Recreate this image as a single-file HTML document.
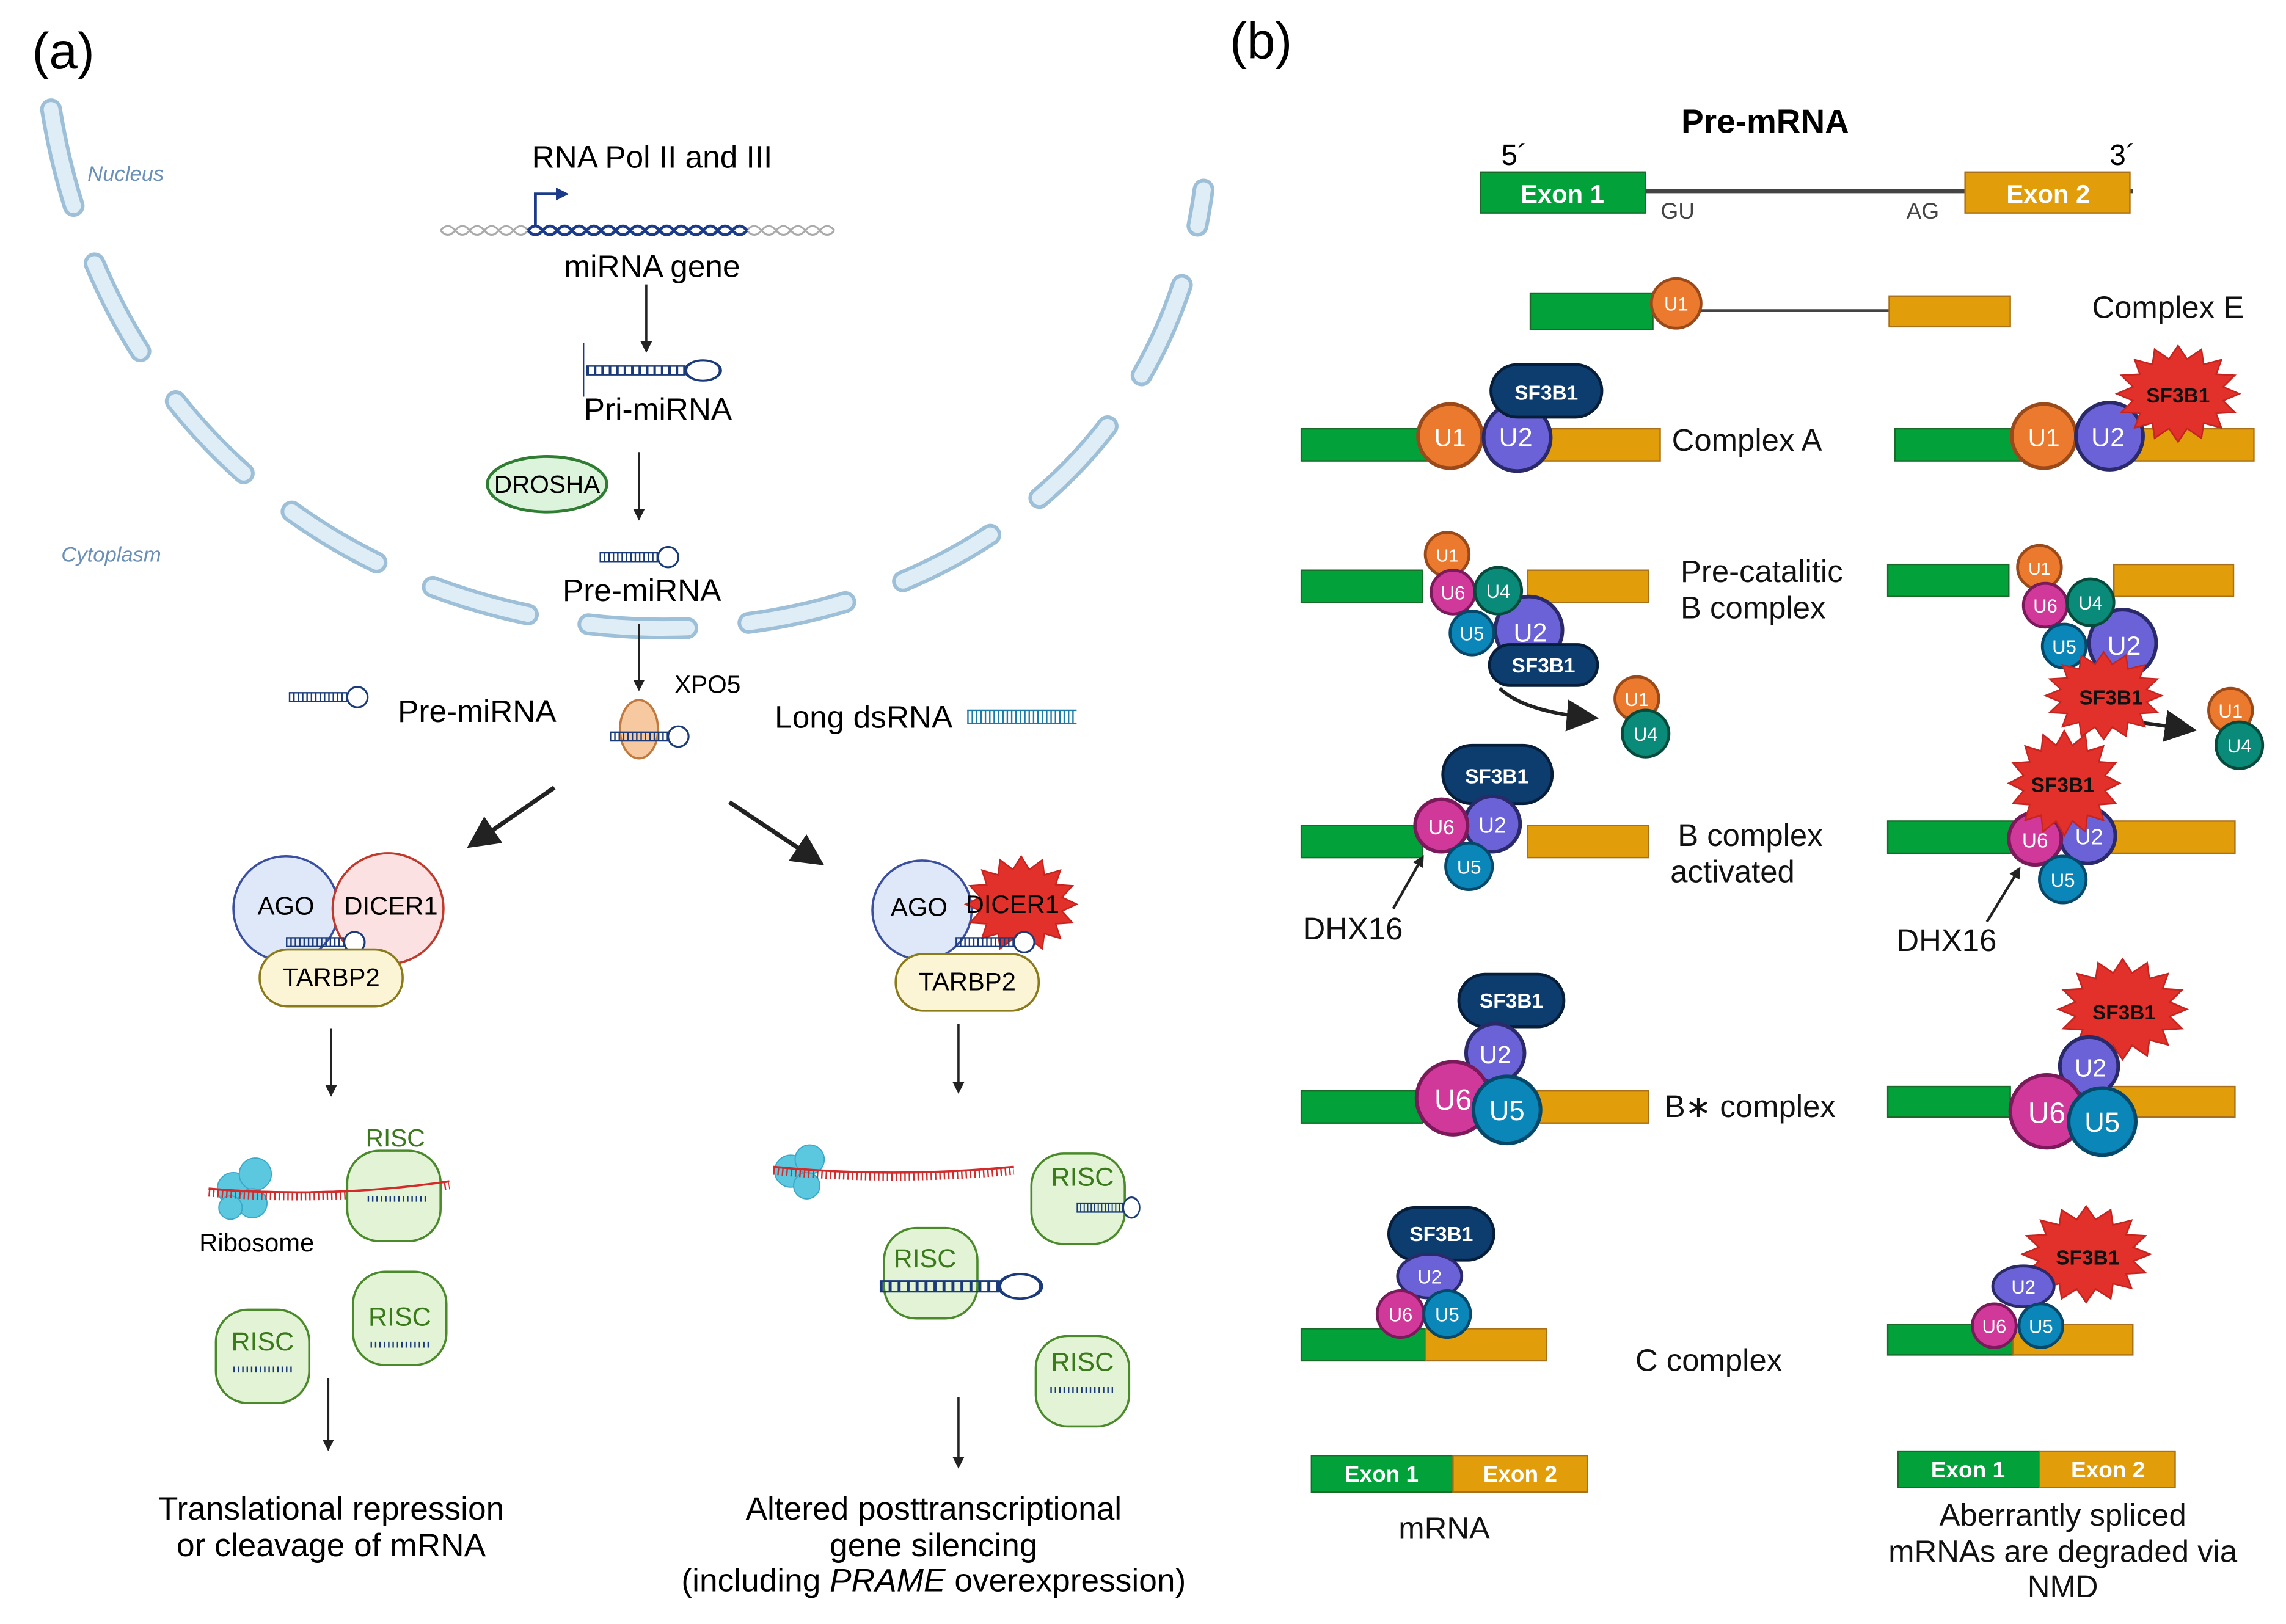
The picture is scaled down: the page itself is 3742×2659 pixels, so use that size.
<!DOCTYPE html>
<html><head><meta charset="utf-8"><style>
html,body{margin:0;padding:0;background:#fff}
svg{display:block}
text{font-family:"Liberation Sans",sans-serif}
</style></head><body>
<svg width="3742" height="2659" viewBox="0 0 1567 1113.5" preserveAspectRatio="none" xmlns="http://www.w3.org/2000/svg">
<defs>
<polygon id="star" points="40,0 29.4,4.3 37,11.5 24.9,12.2 28.3,21.2 16.7,18.3 15.3,27.7 5.9,21.6 0,30 -5.9,21.6 -15.3,27.7 -16.7,18.3 -28.3,21.2 -24.9,12.2 -37,11.5 -29.4,4.3 -40,0 -29.4,-4.3 -37,-11.5 -24.9,-12.2 -28.3,-21.2 -16.7,-18.3 -15.3,-27.7 -5.9,-21.6 0,-30 5.9,-21.6 15.3,-27.7 16.7,-18.3 28.3,-21.2 24.9,-12.2 37,-11.5 29.4,-4.3" fill="#e2302a" stroke="#c42520" stroke-width="1"/>
<marker id="ah" markerWidth="8" markerHeight="8" refX="6" refY="4" orient="auto" markerUnits="userSpaceOnUse"><path d="M0,0 L8,4 L0,8 z" fill="#222"/></marker>
<marker id="ahb" markerWidth="22" markerHeight="22" refX="16" refY="11" orient="auto" markerUnits="userSpaceOnUse"><path d="M0,0 L22,11 L0,22 z" fill="#222"/></marker>
<marker id="ahn" markerWidth="9" markerHeight="9" refX="7" refY="4.5" orient="auto" markerUnits="userSpaceOnUse"><path d="M0,0 L9,4.5 L0,9 z" fill="#1a3a8a"/></marker>
<g id="hp">
<line x1="0" y1="-3" x2="40" y2="-3" stroke="#1a3a7a" stroke-width="1"/>
<line x1="0" y1="3" x2="40" y2="3" stroke="#1a3a7a" stroke-width="1"/>
<line x1="0" y1="0" x2="40" y2="0" stroke="#1a3a7a" stroke-width="6" stroke-dasharray="1 2"/>
<ellipse cx="47" cy="0" rx="7" ry="7" fill="#fff" stroke="#1a3a7a" stroke-width="1.3"/>
</g>
</defs>

<!-- ===== (a) ===== -->
<text x="22" y="47" font-size="35">(a)</text>
<path d="M35,75 C 110,540 770,540 825,130" fill="none" stroke="#9dc0d8" stroke-width="15" stroke-dasharray="68 42" stroke-linecap="round"/>
<path d="M35,75 C 110,540 770,540 825,130" fill="none" stroke="#deedf6" stroke-width="10" stroke-dasharray="68 42" stroke-linecap="round"/>
<text x="60" y="124" font-size="14.5" font-style="italic" fill="#6a8fb8">Nucleus</text>
<text x="42" y="385" font-size="14.5" font-style="italic" fill="#6a8fb8">Cytoplasm</text>

<text x="447" y="115" font-size="21.5" text-anchor="middle">RNA Pol II and III</text>
<path d="M302,158 q5,-6 10,0 t10,0 t10,0 t10,0 t10,0 t10,0 t10,0 t10,0 t10,0 t10,0 t10,0 t10,0 t10,0 t10,0 t10,0 t10,0 t10,0 t10,0 t10,0 t10,0 t10,0 t10,0 t10,0 t10,0 t10,0 t10,0 t10,0" fill="none" stroke="#aaa" stroke-width="1.3"/>
<path d="M302,158 q5,6 10,0 t10,0 t10,0 t10,0 t10,0 t10,0 t10,0 t10,0 t10,0 t10,0 t10,0 t10,0 t10,0 t10,0 t10,0 t10,0 t10,0 t10,0 t10,0 t10,0 t10,0 t10,0 t10,0 t10,0 t10,0 t10,0 t10,0" fill="none" stroke="#aaa" stroke-width="1.3"/>
<path d="M362,158 q5,-6 10,0 t10,0 t10,0 t10,0 t10,0 t10,0 t10,0 t10,0 t10,0 t10,0 t10,0 t10,0 t10,0 t10,0 t10,0" fill="none" stroke="#1a3a8a" stroke-width="2"/>
<path d="M362,158 q5,6 10,0 t10,0 t10,0 t10,0 t10,0 t10,0 t10,0 t10,0 t10,0 t10,0 t10,0 t10,0 t10,0 t10,0 t10,0" fill="none" stroke="#1a3a8a" stroke-width="2"/>
<path d="M367,156 V133 H388" fill="none" stroke="#1a3a8a" stroke-width="2" marker-end="url(#ahn)"/>
<text x="447" y="190" font-size="21.5" text-anchor="middle">miRNA gene</text>
<line x1="443" y1="195" x2="443" y2="240" stroke="#222" stroke-width="1.5" marker-end="url(#ah)"/>
<line x1="400" y1="235" x2="400" y2="272" stroke="#1a3a7a" stroke-width="1"/>
<use href="#hp" transform="translate(402,254) scale(1.7,1)"/>
<text x="451" y="288" font-size="21.5" text-anchor="middle">Pri-miRNA</text>
<ellipse cx="375" cy="332" rx="41" ry="19" fill="#dcf3dc" stroke="#2e7d32" stroke-width="2"/>
<text x="375" y="338" font-size="17" text-anchor="middle">DROSHA</text>
<line x1="438" y1="310" x2="438" y2="355" stroke="#222" stroke-width="1.5" marker-end="url(#ah)"/>
<use href="#hp" transform="translate(411,382)"/>
<text x="440" y="412" font-size="21.5" text-anchor="middle">Pre-miRNA</text>
<line x1="438" y1="428" x2="438" y2="472" stroke="#222" stroke-width="1.5" marker-end="url(#ah)"/>
<text x="485" y="475" font-size="17" text-anchor="middle">XPO5</text>
<ellipse cx="438" cy="500" rx="13" ry="20" fill="#f6c9a0" stroke="#c07a40" stroke-width="1.5"/>
<use href="#hp" transform="translate(418,505)"/>
<use href="#hp" transform="translate(198,478)"/>
<text x="327" y="495" font-size="21.5" text-anchor="middle">Pre-miRNA</text>
<text x="592" y="499" font-size="21.5" text-anchor="middle">Long dsRNA</text>
<line x1="663" y1="487" x2="738" y2="487" stroke="#1a7aa8" stroke-width="1"/>
<line x1="663" y1="496" x2="738" y2="496" stroke="#1a7aa8" stroke-width="1"/>
<line x1="663" y1="491.5" x2="738" y2="491.5" stroke="#1a7aa8" stroke-width="9" stroke-dasharray="1 2"/>
<line x1="380" y1="540" x2="325" y2="578" stroke="#222" stroke-width="3" marker-end="url(#ahb)"/>
<line x1="500" y1="550" x2="560" y2="590" stroke="#222" stroke-width="3" marker-end="url(#ahb)"/>

<!-- left complex -->
<circle cx="196" cy="623" r="36" fill="#dfe8f8" stroke="#3b4fa0" stroke-width="1.5"/>
<circle cx="266" cy="623" r="38" fill="#fbe1e1" stroke="#c0392b" stroke-width="1.5"/>
<text x="196" y="627" font-size="17.5" text-anchor="middle">AGO</text>
<text x="268" y="627" font-size="17.5" text-anchor="middle">DICER1</text>
<use href="#hp" transform="translate(196,646)"/>
<rect x="178" y="651" width="98" height="39" rx="19" fill="#fbf5d6" stroke="#8a7a1a" stroke-width="1.5"/>
<text x="227" y="676" font-size="17.5" text-anchor="middle">TARBP2</text>
<!-- right complex -->
<circle cx="632" cy="624" r="34" fill="#dfe8f8" stroke="#3b4fa0" stroke-width="1.5"/>
<use href="#star" transform="translate(700,620) scale(0.95,1.1)"/>
<text x="630" y="628" font-size="17.5" text-anchor="middle">AGO</text>
<text x="694" y="626" font-size="17.5" text-anchor="middle">DICER1</text>
<use href="#hp" transform="translate(655,646)"/>
<rect x="614" y="654" width="98" height="39" rx="19" fill="#fbf5d6" stroke="#8a7a1a" stroke-width="1.5"/>
<text x="663" y="679" font-size="17.5" text-anchor="middle">TARBP2</text>
<line x1="227" y1="705" x2="227" y2="750" stroke="#222" stroke-width="1.5" marker-end="url(#ah)"/>
<line x1="657" y1="702" x2="657" y2="748" stroke="#222" stroke-width="1.5" marker-end="url(#ah)"/>

<!-- left bottom -->
<g fill="#5bc8e0" stroke="#3aa8c8" stroke-width="0.8"><circle cx="160" cy="815" r="11"/><circle cx="175" cy="805" r="11"/><circle cx="173" cy="825" r="10"/><circle cx="158" cy="828" r="8"/></g>
<path d="M143,815 Q225,822 308,810" fill="none" stroke="#d42a2a" stroke-width="1.5"/>
<path d="M143,818 Q225,825 308,813" fill="none" stroke="#d42a2a" stroke-width="5" stroke-dasharray="1 2"/>
<rect x="238" y="789" width="64" height="62" rx="22" fill="#e3f4d6" stroke="#4a8a2a" stroke-width="1.5"/>
<path d="M143,815 Q225,822 308,810" fill="none" stroke="#d42a2a" stroke-width="1.5"/>
<line x1="252" y1="822" x2="292" y2="822" stroke="#1a3a7a" stroke-width="4" stroke-dasharray="1 2"/>
<text x="271" y="786" font-size="17" fill="#3a7a1a" text-anchor="middle">RISC</text>
<text x="176" y="858" font-size="17.5" text-anchor="middle">Ribosome</text>
<rect x="242" y="872" width="64" height="64" rx="22" fill="#e3f4d6" stroke="#4a8a2a" stroke-width="1.5"/>
<text x="274" y="909" font-size="18" fill="#3a7a1a" text-anchor="middle">RISC</text>
<line x1="254" y1="922" x2="294" y2="922" stroke="#1a3a7a" stroke-width="4" stroke-dasharray="1 2"/>
<rect x="148" y="898" width="64" height="64" rx="22" fill="#e3f4d6" stroke="#4a8a2a" stroke-width="1.5"/>
<text x="180" y="926" font-size="18" fill="#3a7a1a" text-anchor="middle">RISC</text>
<line x1="160" y1="939" x2="200" y2="939" stroke="#1a3a7a" stroke-width="4" stroke-dasharray="1 2"/>
<line x1="225" y1="945" x2="225" y2="993" stroke="#222" stroke-width="1.5" marker-end="url(#ah)"/>
<text x="227" y="1042" font-size="22.3" text-anchor="middle">Translational repression</text>
<text x="227" y="1067" font-size="22.3" text-anchor="middle">or cleavage of mRNA</text>

<!-- right bottom -->
<g fill="#5bc8e0" stroke="#3aa8c8" stroke-width="0.8"><circle cx="542" cy="803" r="11"/><circle cx="555" cy="795" r="10"/><circle cx="553" cy="813" r="9"/></g>
<path d="M530,800 Q612,808 695,800" fill="none" stroke="#d42a2a" stroke-width="1.5"/>
<path d="M530,803 Q612,811 695,803" fill="none" stroke="#d42a2a" stroke-width="5" stroke-dasharray="1 2"/>
<rect x="707" y="791" width="64" height="62" rx="22" fill="#e3f4d6" stroke="#4a8a2a" stroke-width="1.5"/>
<text x="742" y="813" font-size="18" fill="#3a7a1a" text-anchor="middle">RISC</text>
<use href="#hp" transform="translate(738,828) scale(0.8,1)"/>
<rect x="606" y="842" width="64" height="62" rx="22" fill="#e3f4d6" stroke="#4a8a2a" stroke-width="1.5"/>
<text x="634" y="869" font-size="18" fill="#3a7a1a" text-anchor="middle">RISC</text>
<use href="#hp" transform="translate(603,882) scale(2.05,1.2)"/>
<rect x="710" y="916" width="64" height="62" rx="22" fill="#e3f4d6" stroke="#4a8a2a" stroke-width="1.5"/>
<text x="742" y="940" font-size="18" fill="#3a7a1a" text-anchor="middle">RISC</text>
<line x1="720" y1="953" x2="765" y2="953" stroke="#1a3a7a" stroke-width="4" stroke-dasharray="1 2"/>
<line x1="657" y1="958" x2="657" y2="1005" stroke="#222" stroke-width="1.5" marker-end="url(#ah)"/>
<text x="640" y="1042" font-size="22.3" text-anchor="middle">Altered posttranscriptional</text>
<text x="640" y="1067" font-size="22.3" text-anchor="middle">gene silencing</text>
<text x="640" y="1091" font-size="22.3" text-anchor="middle">(including <tspan font-style="italic">PRAME</tspan> overexpression)</text>

<!-- ===== (b) ===== -->
<text x="843" y="40" font-size="35">(b)</text>
<text x="1210" y="91" font-size="23" font-weight="bold" text-anchor="middle">Pre-mRNA</text>
<text x="1038" y="113" font-size="20" text-anchor="middle">5´</text>
<text x="1455" y="113" font-size="20" text-anchor="middle">3´</text>
<line x1="1128" y1="131" x2="1462" y2="131" stroke="#444" stroke-width="3"/>
<rect x="1015" y="118" width="113" height="28" fill="#02a13a" stroke="#1a6a2a"/>
<rect x="1347" y="118" width="113" height="28" fill="#e19d0a" stroke="#a8701a"/>
<text x="1071" y="139" font-size="17.5" font-weight="bold" fill="#fff" text-anchor="middle">Exon 1</text>
<text x="1404" y="139" font-size="17.5" font-weight="bold" fill="#fff" text-anchor="middle">Exon 2</text>
<text x="1150" y="150" font-size="15.5" fill="#444" text-anchor="middle">GU</text>
<text x="1318" y="150" font-size="15.5" fill="#444" text-anchor="middle">AG</text>

<g font-size="21.3" fill="#111">
<text x="1434" y="218">Complex E</text>
<text x="1146" y="309">Complex A</text>
<text x="1152" y="399">Pre-catalitic</text>
<text x="1152" y="424">B complex</text>
<text x="1150" y="580">B complex</text>
<text x="1145" y="605">activated</text>
<text x="1141" y="766">B∗ complex</text>
<text x="1121" y="940">C complex</text>
<text x="893" y="644">DHX16</text>
<text x="1300" y="652">DHX16</text>
<text x="990" y="1055" text-anchor="middle">mRNA</text>
<text x="1414" y="1046" text-anchor="middle">Aberrantly spliced</text>
<text x="1414" y="1071" text-anchor="middle">mRNAs are degraded via</text>
<text x="1414" y="1095" text-anchor="middle">NMD</text>
</g>

<!-- Complex E -->
<line x1="1133" y1="213" x2="1295" y2="213" stroke="#444" stroke-width="2"/>
<rect x="1049" y="201" width="84" height="25" fill="#02a13a" stroke="#1a6a2a"/>
<rect x="1295" y="203" width="83" height="21" fill="#e19d0a" stroke="#a8701a"/>
<circle cx="1149" cy="208" r="17" fill="#ec7a2e" stroke="#9a4a1a" stroke-width="2"/>
<text x="1149" y="213" font-size="13" fill="#fff" text-anchor="middle">U1</text>

<g font-family="Liberation Sans" text-anchor="middle">
<!-- Complex A left -->
<rect x="892" y="294" width="88" height="22" fill="#02a13a" stroke="#1a6a2a"/>
<rect x="1058" y="294" width="80" height="22" fill="#e19d0a" stroke="#a8701a"/>
<circle cx="994" cy="299" r="22" fill="#ec7a2e" stroke="#9a4a1a" stroke-width="2.5"/>
<circle cx="1040" cy="300" r="23" fill="#6a62d6" stroke="#2a2a6a" stroke-width="2.5"/>
<rect x="1022" y="250" width="76" height="36" rx="18" fill="#0d3c6e" stroke="#061e3a" stroke-width="2"/>
<text x="1060" y="274" font-size="14" font-weight="bold" fill="#fff">SF3B1</text>
<text x="994" y="306" font-size="17" fill="#fff">U1</text>
<text x="1039" y="306" font-size="18" fill="#fff">U2</text>
<!-- Complex A right -->
<rect x="1299" y="294" width="86" height="22" fill="#02a13a" stroke="#1a6a2a"/>
<rect x="1463" y="294" width="82" height="22" fill="#e19d0a" stroke="#a8701a"/>
<circle cx="1401" cy="299" r="22" fill="#ec7a2e" stroke="#9a4a1a" stroke-width="2.5"/>
<circle cx="1446" cy="299" r="23" fill="#6a62d6" stroke="#2a2a6a" stroke-width="2.5"/>
<use href="#star" transform="translate(1493,270) scale(1.05,1.1)"/>
<text x="1493" y="276" font-size="14" font-weight="bold" fill="#111">SF3B1</text>
<text x="1401" y="306" font-size="17" fill="#fff">U1</text>
<text x="1445" y="306" font-size="18" fill="#fff">U2</text>

<!-- Pre-catalytic left -->
<rect x="892" y="391" width="83" height="22" fill="#02a13a" stroke="#1a6a2a"/>
<rect x="1047" y="391" width="83" height="22" fill="#e19d0a" stroke="#a8701a"/>
<circle cx="992" cy="380" r="15" fill="#ec7a2e" stroke="#9a4a1a" stroke-width="2"/>
<circle cx="996" cy="406" r="15" fill="#d0389a" stroke="#7a1a5a" stroke-width="2"/>
<circle cx="1048" cy="432" r="23" fill="#6a62d6" stroke="#2a2a6a" stroke-width="2.5"/>
<circle cx="1027" cy="405" r="16" fill="#0a8a78" stroke="#054a3a" stroke-width="2"/>
<circle cx="1009" cy="434" r="15" fill="#0a86b8" stroke="#05486a" stroke-width="2"/>
<rect x="1021" y="442" width="74" height="28" rx="14" fill="#0d3c6e" stroke="#061e3a" stroke-width="2"/>
<text x="992" y="385" font-size="12" fill="#fff">U1</text>
<text x="996" y="411" font-size="13" fill="#fff">U6</text>
<text x="1027" y="410" font-size="13" fill="#fff">U4</text>
<text x="1009" y="439" font-size="13" fill="#fff">U5</text>
<text x="1049" y="440" font-size="18" fill="#fff">U2</text>
<text x="1058" y="461" font-size="14" font-weight="bold" fill="#fff">SF3B1</text>
<path d="M1028,472 Q1045,488 1090,492" fill="none" stroke="#222" stroke-width="2.5" marker-end="url(#ahb)"/>
<circle cx="1122" cy="479" r="15" fill="#ec7a2e" stroke="#9a4a1a" stroke-width="2"/>
<circle cx="1128" cy="503" r="16" fill="#0a8a78" stroke="#054a3a" stroke-width="2"/>
<text x="1122" y="484" font-size="13" fill="#fff">U1</text>
<text x="1128" y="508" font-size="13" fill="#fff">U4</text>
<!-- Pre-catalytic right -->
<rect x="1294" y="387" width="83" height="22" fill="#02a13a" stroke="#1a6a2a"/>
<rect x="1449" y="387" width="82" height="22" fill="#e19d0a" stroke="#a8701a"/>
<circle cx="1398" cy="389" r="15" fill="#ec7a2e" stroke="#9a4a1a" stroke-width="2"/>
<circle cx="1402" cy="415" r="15" fill="#d0389a" stroke="#7a1a5a" stroke-width="2"/>
<circle cx="1455" cy="441" r="23" fill="#6a62d6" stroke="#2a2a6a" stroke-width="2.5"/>
<circle cx="1433" cy="413" r="16" fill="#0a8a78" stroke="#054a3a" stroke-width="2"/>
<circle cx="1415" cy="443" r="15" fill="#0a86b8" stroke="#05486a" stroke-width="2"/>
<text x="1398" y="394" font-size="12" fill="#fff">U1</text>
<text x="1402" y="420" font-size="13" fill="#fff">U6</text>
<text x="1433" y="418" font-size="13" fill="#fff">U4</text>
<text x="1415" y="448" font-size="13" fill="#fff">U5</text>
<text x="1456" y="449" font-size="18" fill="#fff">U2</text>
<line x1="1465" y1="495" x2="1500" y2="500" stroke="#222" stroke-width="2.5" marker-end="url(#ahb)"/>
<use href="#star" transform="translate(1442,477) scale(1,1)"/>
<text x="1447" y="483" font-size="14" font-weight="bold" fill="#111">SF3B1</text>
<circle cx="1529" cy="487" r="15" fill="#ec7a2e" stroke="#9a4a1a" stroke-width="2"/>
<circle cx="1535" cy="511" r="16" fill="#0a8a78" stroke="#054a3a" stroke-width="2"/>
<text x="1529" y="492" font-size="13" fill="#fff">U1</text>
<text x="1535" y="516" font-size="13" fill="#fff">U4</text>

<!-- B activated left -->
<rect x="892" y="566" width="83" height="22" fill="#02a13a" stroke="#1a6a2a"/>
<rect x="1047" y="566" width="83" height="22" fill="#e19d0a" stroke="#a8701a"/>
<rect x="989" y="511" width="75" height="40" rx="20" fill="#0d3c6e" stroke="#061e3a" stroke-width="2"/>
<text x="1026" y="537" font-size="14" font-weight="bold" fill="#fff">SF3B1</text>
<circle cx="1023" cy="565" r="19" fill="#6a62d6" stroke="#2a2a6a" stroke-width="2.5"/>
<circle cx="988" cy="566" r="18" fill="#d0389a" stroke="#7a1a5a" stroke-width="2.5"/>
<circle cx="1007" cy="594" r="16" fill="#0a86b8" stroke="#05486a" stroke-width="2"/>
<text x="988" y="572" font-size="14" fill="#fff">U6</text>
<text x="1023" y="571" font-size="15" fill="#fff">U2</text>
<text x="1007" y="599" font-size="13" fill="#fff">U5</text>
<line x1="955" y1="623" x2="975" y2="588" stroke="#222" stroke-width="1.8" marker-end="url(#ah)"/>
<!-- B activated right -->
<rect x="1294" y="563" width="86" height="22" fill="#02a13a" stroke="#1a6a2a"/>
<rect x="1445" y="563" width="87" height="22" fill="#e19d0a" stroke="#a8701a"/>
<circle cx="1431" cy="573" r="19" fill="#6a62d6" stroke="#2a2a6a" stroke-width="2.5"/>
<circle cx="1395" cy="575" r="18" fill="#d0389a" stroke="#7a1a5a" stroke-width="2.5"/>
<use href="#star" transform="translate(1415,537) scale(0.95,1.2)"/>
<text x="1414" y="543" font-size="14" font-weight="bold" fill="#111">SF3B1</text>
<circle cx="1414" cy="603" r="16" fill="#0a86b8" stroke="#05486a" stroke-width="2"/>
<text x="1395" y="581" font-size="14" fill="#fff">U6</text>
<text x="1432" y="579" font-size="15" fill="#fff">U2</text>
<text x="1414" y="608" font-size="13" fill="#fff">U5</text>
<line x1="1362" y1="632" x2="1384" y2="596" stroke="#222" stroke-width="1.8" marker-end="url(#ah)"/>

<!-- B* left -->
<rect x="892" y="748" width="83" height="22" fill="#02a13a" stroke="#1a6a2a"/>
<rect x="1050" y="748" width="80" height="22" fill="#e19d0a" stroke="#a8701a"/>
<rect x="1000" y="668" width="72" height="36" rx="18" fill="#0d3c6e" stroke="#061e3a" stroke-width="2"/>
<text x="1036" y="691" font-size="14" font-weight="bold" fill="#fff">SF3B1</text>
<circle cx="1025" cy="722" r="20" fill="#6a62d6" stroke="#2a2a6a" stroke-width="2.5"/>
<circle cx="996" cy="753" r="25" fill="#d0389a" stroke="#7a1a5a" stroke-width="2.5"/>
<circle cx="1033" cy="761" r="23" fill="#0a86b8" stroke="#05486a" stroke-width="2.5"/>
<text x="1025" y="729" font-size="17" fill="#fff">U2</text>
<text x="996" y="761" font-size="20" fill="#fff">U6</text>
<text x="1033" y="768" font-size="19" fill="#fff">U5</text>
<!-- B* right -->
<rect x="1294" y="745" width="84" height="21" fill="#02a13a" stroke="#1a6a2a"/>
<rect x="1445" y="745" width="87" height="21" fill="#e19d0a" stroke="#a8701a"/>
<use href="#star" transform="translate(1455,692) scale(1.1,1.15)"/>
<text x="1456" y="699" font-size="14" font-weight="bold" fill="#111">SF3B1</text>
<circle cx="1432" cy="731" r="20" fill="#6a62d6" stroke="#2a2a6a" stroke-width="2.5"/>
<circle cx="1403" cy="762" r="25" fill="#d0389a" stroke="#7a1a5a" stroke-width="2.5"/>
<circle cx="1441" cy="769" r="23" fill="#0a86b8" stroke="#05486a" stroke-width="2.5"/>
<text x="1433" y="738" font-size="17" fill="#fff">U2</text>
<text x="1403" y="770" font-size="20" fill="#fff">U6</text>
<text x="1441" y="776" font-size="19" fill="#fff">U5</text>

<!-- C left -->
<rect x="892" y="911" width="85" height="22" fill="#02a13a" stroke="#1a6a2a"/>
<rect x="977" y="911" width="83" height="22" fill="#e19d0a" stroke="#a8701a"/>
<rect x="952" y="828" width="72" height="36" rx="18" fill="#0d3c6e" stroke="#061e3a" stroke-width="2"/>
<text x="988" y="851" font-size="14" font-weight="bold" fill="#fff">SF3B1</text>
<ellipse cx="980" cy="875" rx="22" ry="15" fill="#6a62d6" stroke="#2a2a6a" stroke-width="2"/>
<circle cx="960" cy="901" r="16" fill="#d0389a" stroke="#7a1a5a" stroke-width="2"/>
<circle cx="992" cy="901" r="16" fill="#0a86b8" stroke="#05486a" stroke-width="2"/>
<text x="980" y="880" font-size="13" fill="#fff">U2</text>
<text x="960" y="906" font-size="13" fill="#fff">U6</text>
<text x="992" y="906" font-size="13" fill="#fff">U5</text>
<!-- C right -->
<rect x="1294" y="908" width="86" height="21" fill="#02a13a" stroke="#1a6a2a"/>
<rect x="1380" y="908" width="82" height="21" fill="#e19d0a" stroke="#a8701a"/>
<use href="#star" transform="translate(1430,860) scale(1.1,1.1)"/>
<text x="1431" y="867" font-size="14" font-weight="bold" fill="#111">SF3B1</text>
<ellipse cx="1387" cy="882" rx="21" ry="14" fill="#6a62d6" stroke="#2a2a6a" stroke-width="2"/>
<circle cx="1367" cy="909" r="15" fill="#d0389a" stroke="#7a1a5a" stroke-width="2"/>
<circle cx="1399" cy="909" r="15" fill="#0a86b8" stroke="#05486a" stroke-width="2"/>
<text x="1387" y="887" font-size="13" fill="#fff">U2</text>
<text x="1367" y="914" font-size="13" fill="#fff">U6</text>
<text x="1399" y="914" font-size="13" fill="#fff">U5</text>

<!-- mRNAs -->
<rect x="899" y="998" width="97" height="25" fill="#02a13a" stroke="#1a6a2a"/>
<rect x="996" y="998" width="92" height="25" fill="#e19d0a" stroke="#a8701a"/>
<text x="947" y="1016" font-size="15.5" font-weight="bold" fill="#fff">Exon 1</text>
<text x="1042" y="1016" font-size="15.5" font-weight="bold" fill="#fff">Exon 2</text>
<rect x="1301" y="995" width="97" height="25" fill="#02a13a" stroke="#1a6a2a"/>
<rect x="1398" y="995" width="93" height="25" fill="#e19d0a" stroke="#a8701a"/>
<text x="1349" y="1013" font-size="15.5" font-weight="bold" fill="#fff">Exon 1</text>
<text x="1445" y="1013" font-size="15.5" font-weight="bold" fill="#fff">Exon 2</text>
</g>
</svg>
</body></html>
